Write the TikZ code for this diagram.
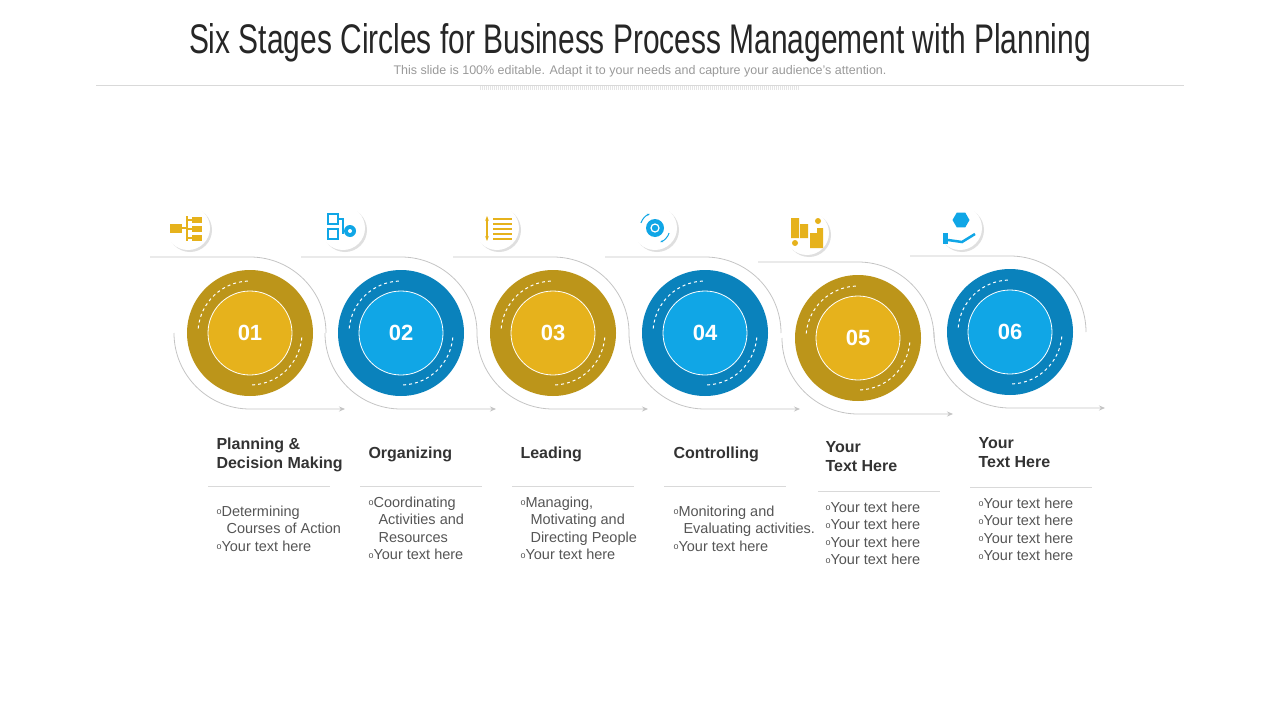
\documentclass[tikz,border=0pt]{standalone}
\usepackage{fontspec}
\setmainfont{Liberation Sans}
\usetikzlibrary{shadows,arrows.meta,shapes.geometric}
\definecolor{goldDark}{HTML}{BC951A}
\definecolor{goldLight}{HTML}{E6B21C}
\definecolor{blueDark}{HTML}{0A82BC}
\definecolor{blueLight}{HTML}{10A6E6}
\definecolor{lineGray}{HTML}{C4C4C4}
\definecolor{textGray}{HTML}{555555}
\newcommand{\bul}{\raisebox{1.5pt}{\fontsize{9}{9}\selectfont o}}
\newcommand{\ind}{\hspace*{10pt}}
% one stage: x, y, number, dark, light
\newcommand{\stageCircle}[5]{
	\draw[flow] (#1-100,#2-76) -- (#1,#2-76) arc (-90:0:76);
	\draw[flow,-{Stealth[length=6pt,width=5pt]}] (#1-76,#2) arc (180:90:76) -- ++(95,0);
	\fill[#4] (#1,#2) circle (63);
	\draw[white,dashed,line width=1pt] (#1,#2) ++(185:52) arc (185:268:52);
	\draw[white,dashed,line width=1pt] (#1,#2) ++(5:52) arc (5:88:52);
	\node[numdisc,fill=#5] (n#3) at (#1,#2) {#3};
}
\tikzset{
	flow/.style={lineGray,line width=0.8pt},
	numdisc/.style={circle,draw=white,line width=0.8pt,minimum size=84pt,inner sep=0pt,
		text=white,font=\fontsize{22}{22}\selectfont\bfseries},
	iconbg/.style={circle,fill=white,minimum size=44pt,drop shadow={opacity=0.25,shadow xshift=2pt,shadow yshift=-2pt}},
	head/.style={anchor=north west,align=left,text=black!80,font=\fontsize{16}{19}\selectfont\bfseries},
	body/.style={anchor=north west,align=left,text=textGray,font=\fontsize{14.5}{17.5}\selectfont},
	sep/.style={black!15,line width=0.8pt}
}
\begin{document}
\begin{tikzpicture}[x=1pt,y=-1pt]
	\useasboundingbox (0,0) rectangle (1280,720);

	% title
	\node[text=black!85] (title) at (640,43) {\resizebox{902pt}{30pt}{\fontsize{30}{30}\selectfont Six Stages Circles for Business Process Management with Planning}};
	\node[text=black!40,font=\fontsize{12.5}{14}\selectfont] (sub) at (640,71) {This slide is 100\% editable. Adapt it to your needs and capture your audience's attention.};
	\draw[black!15,line width=0.8pt] (96,85) -- (1184,85);
	\draw[black!10,line width=4pt,dash pattern=on 1pt off 1pt] (480,88) -- (800,88);

	% circles
	\stageCircle{250}{333}{01}{goldDark}{goldLight}
	\stageCircle{401}{333}{02}{blueDark}{blueLight}
	\stageCircle{553}{333}{03}{goldDark}{goldLight}
	\stageCircle{705}{333}{04}{blueDark}{blueLight}
	\stageCircle{858}{338}{05}{goldDark}{goldLight}
	\stageCircle{1010}{332}{06}{blueDark}{blueLight}

	% icons
	\node[iconbg] (i1) at (188,228) {};
	\node[iconbg] (i2) at (343,228) {};
	\node[iconbg] (i3) at (497,228) {};
	\node[iconbg] (i4) at (655,228) {};
	\node[iconbg] (i5) at (807,233) {};
	\node[iconbg] (i6) at (960,228) {};
	% icon 1: case and tree
	\fill[goldLight] (170,224) rectangle (182,233);
	\draw[goldLight,line width=1.2pt] (187,216) -- (187,241) (187,220) -- (192,220) (187,229) -- (192,229) (187,238) -- (192,238) (182,228) -- (187,228);
	\foreach \yy in {220,229,238}{\fill[goldLight] (192,\yy-3) rectangle (202,\yy+3);}
	% icon 2: boxes and gear
	\draw[blueLight,line width=1.5pt] (328,214) rectangle (338,224) (328,229) rectangle (338,239) (338,219) -- (343,219) -- (343,234);
	\fill[blueLight] (350,231) circle (6);
	\fill[white] (350,231) circle (2);
	% icon 3: arrow and lines
	\draw[goldLight,line width=1.6pt,{Stealth[length=5pt]}-{Stealth[length=5pt]}] (487,216) -- (487,241);
	\foreach \yy in {219,224,229,234,239}{\draw[goldLight,line width=2pt] (493,\yy) -- (512,\yy);}
	% icon 4: gear with arrows
	\fill[blueLight] (655,228) circle (9);
	\draw[white,line width=1.2pt] (655,228) circle (4);
	\draw[blueLight,line width=1pt,-{Stealth[length=3pt]}] (655,228) ++(200:15) arc (200:250:15);
	\draw[blueLight,line width=1pt,-{Stealth[length=3pt]}] (655,228) ++(20:15) arc (20:70:15);
	% icon 5: buildings
	\fill[goldLight] (791,218) rectangle (799,238) (800,224) rectangle (808,238) (810,233) rectangle (817,248) (817,228) rectangle (823,248);
	\fill[goldLight] (795,243) circle (3) (818,221) circle (3);
	% icon 6: hand and hexagon
	\node[regular polygon,regular polygon sides=6,fill=blueLight,minimum size=17pt,inner sep=0pt] (hex) at (961,220) {};
	\fill[blueLight] (943,233) rectangle (948,244);
	\draw[blueLight,line width=2.5pt] (948,240) -- (962,242) -- (975,234);

	% texts
	\node[head] (h1) at (213,434) {Planning \&\\Decision Making};
	\node[head] (h2) at (365,443) {Organizing};
	\node[head] (h3) at (517,443) {Leading};
	\node[head] (h4) at (670,443) {Controlling};
	\node[head] (h5) at (822,438) {Your\\Text Here};
	\node[head] (h6) at (975,434) {Your\\Text Here};
	\draw[sep] (208,486) -- (330,486);
	\draw[sep] (360,486) -- (482,486);
	\draw[sep] (512,486) -- (634,486);
	\draw[sep] (664,486) -- (786,486);
	\draw[sep] (818,491) -- (940,491);
	\draw[sep] (970,487) -- (1092,487);
	\node[body] (b1) at (213,502) {\bul Determining\\\ind Courses of Action\\\bul Your text here};
	\node[body] (b2) at (365,493) {\bul Coordinating\\\ind Activities and\\\ind Resources\\\bul Your text here};
	\node[body] (b3) at (517,493) {\bul Managing,\\\ind Motivating and\\\ind Directing People\\\bul Your text here};
	\node[body] (b4) at (670,502) {\bul Monitoring and\\\ind Evaluating activities.\\\bul Your text here};
	\node[body] (b5) at (822,498) {\bul Your text here\\\bul Your text here\\\bul Your text here\\\bul Your text here};
	\node[body] (b6) at (975,494) {\bul Your text here\\\bul Your text here\\\bul Your text here\\\bul Your text here};
\end{tikzpicture}
\end{document}
